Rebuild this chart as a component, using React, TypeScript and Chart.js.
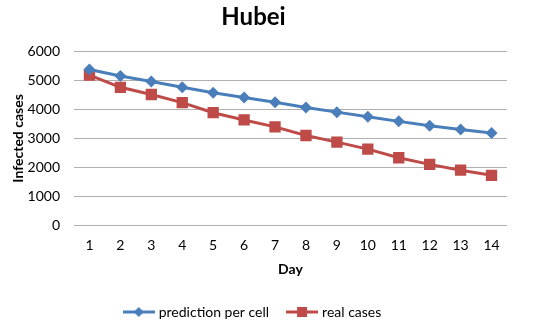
import React, { useEffect, useRef } from 'react';
import Chart from 'chart.js/auto';

const days = ['1', '2', '3', '4', '5', '6', '7', '8', '9', '10', '11', '12', '13', '14'];
const prediction = [5390, 5160, 4970, 4770, 4580, 4420, 4250, 4070, 3910, 3750, 3590, 3440, 3310, 3190];
const realCases = [5190, 4770, 4520, 4240, 3890, 3640, 3400, 3100, 2870, 2630, 2330, 2100, 1900, 1720];
const seriesNames = ['prediction per cell', 'real cases'];
const yMin = 0;
const yMax = 6000;
const yStep = 1000;

const BLUE = '#4a7ebb';
const RED = '#be4b48';
const FONT = 'Lato';

function makeIcon(color: string, shape: 'diamond' | 'square') {
  const c = document.createElement('canvas');
  c.width = 32;
  c.height = 12;
  const ctx = c.getContext('2d')!;
  ctx.strokeStyle = color;
  ctx.lineWidth = 3;
  ctx.beginPath();
  ctx.moveTo(0, 6);
  ctx.lineTo(32, 6);
  ctx.stroke();
  ctx.fillStyle = color;
  ctx.beginPath();
  if (shape === 'diamond') {
    ctx.moveTo(16, 1);
    ctx.lineTo(21, 6);
    ctx.lineTo(16, 11);
    ctx.lineTo(11, 6);
    ctx.closePath();
  } else {
    ctx.rect(11, 1, 10, 10);
  }
  ctx.fill();
  return c;
}

export default function App() {
  const ref = useRef<HTMLCanvasElement | null>(null);
  useEffect(() => {
    if (!ref.current) return;
    const icons = [makeIcon(BLUE, 'diamond'), makeIcon(RED, 'square')];
    const chart = new Chart(ref.current, {
      type: 'line',
      data: {
        labels: days,
        datasets: [
          {
            label: seriesNames[0],
            data: prediction,
            borderColor: BLUE,
            backgroundColor: BLUE,
            borderWidth: 3,
            pointStyle: 'rectRot',
            pointRadius: 6,
            pointBorderWidth: 0,
            tension: 0,
          },
          {
            label: seriesNames[1],
            data: realCases,
            borderColor: RED,
            backgroundColor: RED,
            borderWidth: 3,
            pointStyle: 'rect',
            pointRadius: 8,
            pointBorderWidth: 0,
            tension: 0,
          },
        ],
      },
      options: {
        responsive: false,
        animation: false,
        devicePixelRatio: 1,
        layout: { padding: { left: 0, right: 43, top: 0, bottom: 0 } },
        plugins: {
          title: {
            display: true,
            text: 'Hubei',
            color: '#000',
            font: { family: FONT, size: 24, weight: 'bold' },
            padding: { top: 3, bottom: 20 },
          },
          legend: {
            position: 'bottom',
            labels: {
              usePointStyle: true,
              pointStyleWidth: 26,
              color: '#000',
              font: { family: FONT, size: 14 },
              padding: 20,
              generateLabels: (ch: any) =>
                ch.data.datasets.map((ds: any, i: number) => ({
                  text: ds.label,
                  pointStyle: icons[i],
                  fillStyle: ds.backgroundColor,
                  strokeStyle: ds.borderColor,
                  lineWidth: 0,
                  hidden: false,
                  datasetIndex: i,
                  fontColor: '#000',
                })),
            },
          },
          tooltip: { enabled: false },
        },
        scales: {
          x: {
            offset: true,
            grid: { display: false, drawTicks: false },
            border: { display: false },
            ticks: { color: '#000', font: { family: FONT, size: 14 }, padding: 12 },
            title: {
              display: true,
              text: 'Day',
              color: '#000',
              font: { family: FONT, size: 14, weight: 'bold' },
              padding: { top: 0, bottom: 7 },
            },
            afterFit: (s: any) => {
              s.height = 60;
            },
          },
          y: {
            min: yMin,
            max: yMax,
            grid: { color: '#b0b0b0', lineWidth: 1, drawTicks: false },
            border: { display: false },
            ticks: {
              stepSize: yStep,
              color: '#000',
              font: { family: FONT, size: 14 },
              padding: 14,
              callback: (v: any) => String(v),
            },
            title: {
              display: true,
              text: 'Infected cases',
              color: '#000',
              font: { family: FONT, size: 14, weight: 'bold' },
              padding: { top: 10, bottom: 0 },
            },
            afterFit: (s: any) => {
              s.width = 74;
            },
          },
        },
      },
    });
    return () => chart.destroy();
  }, []);
  return (
    <div style={{ position: 'fixed', left: 0, top: 0, width: 550, height: 329, background: '#fff' }}>
      <canvas ref={ref} width={550} height={329} />
    </div>
  );
}
